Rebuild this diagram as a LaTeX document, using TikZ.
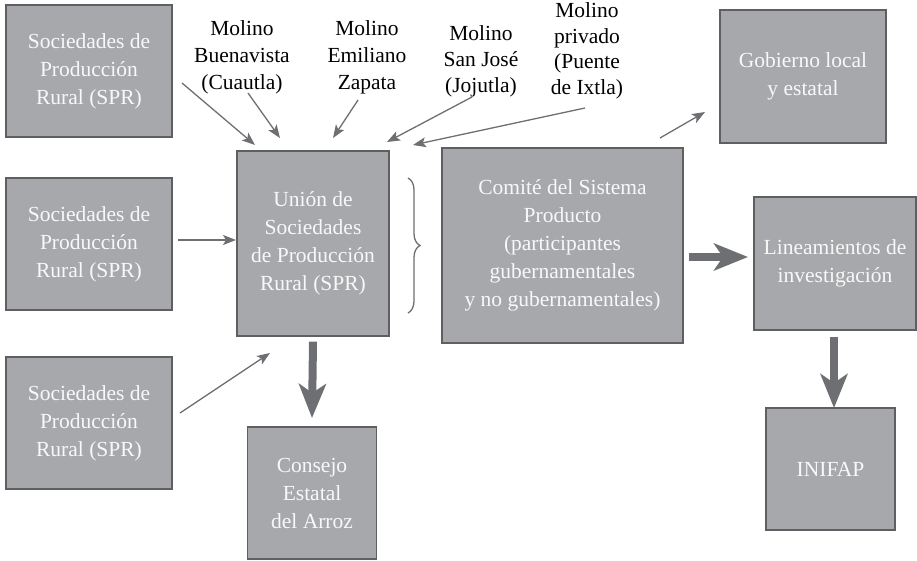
\documentclass[tikz,border=0pt]{standalone}
\usepackage{fontspec}
\setmainfont{Liberation Serif}
\usetikzlibrary{arrows.meta,decorations.pathreplacing}
\definecolor{boxfill}{RGB}{167,168,171}
\definecolor{boxline}{RGB}{95,95,98}
\definecolor{arrowc}{RGB}{110,111,114}
\definecolor{boxtext}{RGB}{248,248,248}
\tikzset{
  gbox/.style={draw=boxline, line width=1.2pt, fill=boxfill, text=boxtext, align=center,
    inner sep=0pt, font=\fontsize{21.5}{28}\selectfont},
  lbl/.style={align=center, text=black, inner sep=0pt, font=\fontsize{21.5}{27}\selectfont},
  thinarrow/.style={draw=arrowc, line width=1.3pt, -{Stealth[length=13pt,width=10pt,inset=3pt]}},
  thickarrow/.style={draw=arrowc, line width=8pt, -{Stealth[length=34pt,width=27pt,inset=9pt]}},
}
\begin{document}
\begin{tikzpicture}[x=1pt,y=-1pt]
\useasboundingbox (0,0) rectangle (917,560);
% boxes
\node[gbox, minimum width=166pt, minimum height=132pt] (spr1) at (89,71) {\raisebox{-3pt}{}Sociedades de\\Producción\\Rural (SPR)};
\node[gbox, minimum width=166pt, minimum height=132pt] (spr2) at (89,244) {Sociedades de\\Producción\\Rural (SPR)};
\node[gbox, minimum width=166pt, minimum height=132pt] (spr3) at (89,423) {Sociedades de\\Producción\\Rural (SPR)};
\node[gbox, minimum width=152pt, minimum height=185pt] (union) at (313,243.5) {Unión de\\Sociedades\\de Producción\\Rural (SPR)};
\node[gbox, minimum width=129pt, minimum height=132pt] (consejo) at (312,493) {Consejo\\Estatal\\del Arroz};
\node[gbox, minimum width=241pt, minimum height=195pt] (comite) at (562.5,245.5) {Comité del Sistema\\Producto\\(participantes\\gubernamentales\\y no gubernamentales)};
\node[gbox, minimum width=166pt, minimum height=133pt] (gob) at (803,76.5) {Gobierno local\\y estatal};
\node[gbox, minimum width=162pt, minimum height=133pt] (lin) at (835,263.5) {Lineamientos de\\investigación};
\node[gbox, minimum width=129pt, minimum height=122pt] (inifap) at (830.5,469) {INIFAP};
% labels
\node[lbl] (bv) at (242,57) {Molino\\Buenavista\\(Cuautla)};
\node[lbl] (ez) at (367,57) {Molino\\Emiliano\\Zapata};
\node[lbl, font=\fontsize{21.5}{26}\selectfont] (sj) at (481,61) {Molino\\San José\\(Jojutla)};
\node[lbl, font=\fontsize{21.5}{25.5}\selectfont] (pi) at (587,51) {Molino\\privado\\(Puente\\de Ixtla)};
% arrow coordinates
\coordinate (a1s) at (182,83);  \coordinate (a1e) at (255,145);
\coordinate (a2s) at (248,93);  \coordinate (a2e) at (280,138);
\coordinate (a3s) at (358,100); \coordinate (a3e) at (333,138);
\coordinate (a4s) at (472,97);  \coordinate (a4e) at (387,142);
\coordinate (a5s) at (585,108); \coordinate (a5e) at (413,145);
\coordinate (a6s) at (178,240); \coordinate (a6e) at (236,240);
\coordinate (a7s) at (180,413); \coordinate (a7e) at (270,353);
\coordinate (a8s) at (660,138); \coordinate (a8e) at (705,112);
\draw[thinarrow] (a1s) -- (a1e);
\draw[thinarrow] (a2s) -- (a2e);
\draw[thinarrow] (a3s) -- (a3e);
\draw[thinarrow] (a4s) -- (a4e);
\draw[thinarrow] (a5s) -- (a5e);
\draw[thinarrow] (a6s) -- (a6e);
\draw[thinarrow] (a7s) -- (a7e);
\draw[thinarrow] (a8s) -- (a8e);
% thick arrows
\draw[thickarrow] (union.south) ++(0,5) -- (consejo.north |- 0,418);
\draw[thickarrow] (comite.east |- 0,257) ++(5,0) -- (748,257);
\draw[thickarrow] (lin.south -| 834,0) ++(0,6) -- (834,408);
% brace
\coordinate (b1) at (408,178); \coordinate (b2) at (408,313);
\draw[draw=arrowc, line width=1.3pt, decorate, decoration={brace, amplitude=12pt}] (b1) -- (b2);
\end{tikzpicture}
\end{document}
